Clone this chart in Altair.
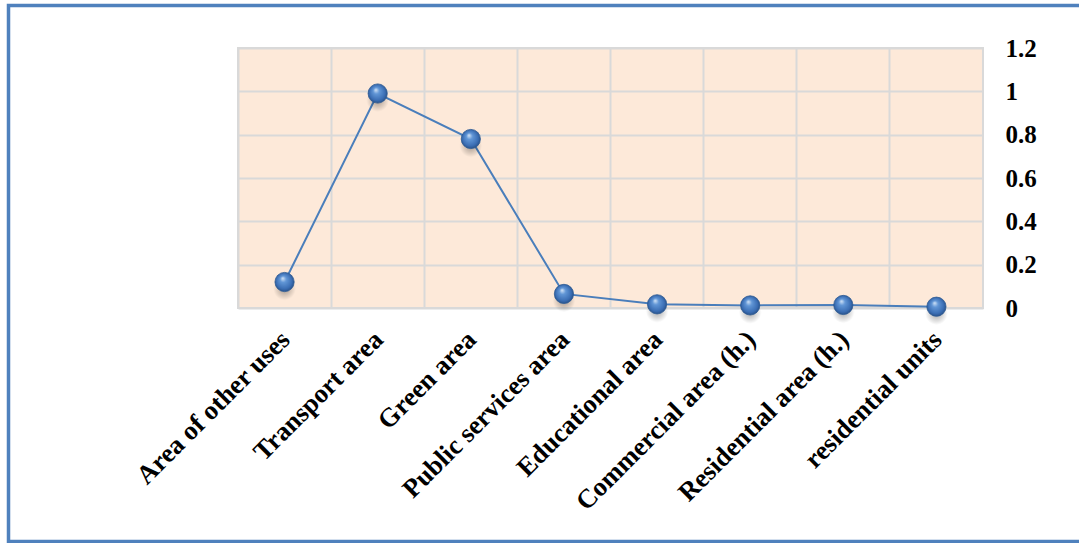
import altair as alt
import pandas as pd

# Land-use categories and their index values
categories = [
    "Area of other uses",
    "Transport area",
    "Green area",
    "Public services area",
    "Educational area",
    "Commercial area (h.)",
    "Residential area (h.)",
    "residential units",
]
values = [0.12, 0.99, 0.78, 0.065, 0.017, 0.012, 0.014, 0.006]
y_ticks = [0, 0.2, 0.4, 0.6, 0.8, 1.0, 1.2]

df = pd.DataFrame({"category": categories, "value": values})

W, H = 745, 260
PAD_L, PAD_T = 238, 48
FONT = "Liberation Serif"
LINE_BLUE = "#4A7EBB"

x_enc = alt.X(
    "category:N",
    sort=categories,
    scale=alt.Scale(type="band", paddingInner=0, paddingOuter=0),
    axis=alt.Axis(
        title=None,
        labelAngle=-45,
        labelAlign="right",
        labelBaseline="top",
        labelPadding=18,
        labelOffset=-8,
        labelFont=FONT,
        labelFontSize=26.5,
        labelFontWeight="bold",
        labelColor="black",
        labelLimit=400,
        domain=False,
        ticks=False,
        grid=True,
        bandPosition=0,
        gridColor="#D9D9D9",
        gridWidth=2,
    ),
)
y_enc = alt.Y(
    "value:Q",
    scale=alt.Scale(domain=[0, 1.2], nice=False),
    axis=alt.Axis(
        title=None,
        orient="right",
        values=y_ticks,
        labelExpr="datum.value == 0 ? '0' : format(datum.value, '.1~f')",
        labelAlign="left",
        labelBaseline="middle",
        labelPadding=22,
        labelFont=FONT,
        labelFontSize=25,
        labelFontWeight="bold",
        labelColor="black",
        domain=False,
        ticks=False,
        grid=True,
        gridColor="#D9D9D9",
        gridWidth=2,
    ),
)

line = alt.Chart(df).mark_line(color=LINE_BLUE, strokeWidth=2).encode(x=x_enc, y=y_enc)

# soft drop shadow under each marker
shadow_fill = alt.RadialGradient(
    gradient="radial",
    stops=[
        alt.GradientStop(color="rgba(0,0,0,0.35)", offset=0),
        alt.GradientStop(color="rgba(0,0,0,0)", offset=1),
    ],
    x1=0.5, y1=0.5, r1=0, x2=0.5, y2=0.5, r2=0.5,
)
shadow = alt.Chart(df).mark_point(
    shape="circle", filled=True, fill=shadow_fill, strokeWidth=0, size=500, yOffset=7, opacity=1
).encode(x=x_enc, y=y_enc)

# glossy sphere markers
sphere_fill = alt.RadialGradient(
    gradient="radial",
    stops=[
        alt.GradientStop(color="#D6E6F8", offset=0),
        alt.GradientStop(color="#6196D6", offset=0.3),
        alt.GradientStop(color="#3A6DB3", offset=0.75),
        alt.GradientStop(color="#24487A", offset=1),
    ],
    x1=0.4, y1=0.3, r1=0, x2=0.5, y2=0.5, r2=0.55,
)
points = alt.Chart(df).mark_point(
    shape="circle", filled=True, fill=sphere_fill, stroke="#2C5A94", strokeWidth=0.8, size=370, opacity=1
).encode(x=x_enc, y=y_enc)

# blue frame around the whole figure
frame = alt.Chart(pd.DataFrame({"a": [0]})).mark_rect(
    fillOpacity=0, stroke="#4F81BD", strokeWidth=3.5
).encode(
    x=alt.value(8.5 - PAD_L),
    x2=alt.value(1100 - PAD_L),
    y=alt.value(5.5 - PAD_T),
    y2=alt.value(541.5 - PAD_T),
)

chart = (
    alt.layer(line, shadow, points, frame)
    .properties(
        width=W,
        height=H,
        autosize=alt.AutoSizeParams(type="none"),
        padding={"left": PAD_L, "top": PAD_T, "right": 1079 - PAD_L - W, "bottom": 543 - PAD_T - H},
        background="white",
    )
    .configure_view(fill="#FDE9D9", stroke="#D9D9D9", strokeWidth=2)
)

chart.save("out.html", embed_options={"renderer": "svg", "actions": False})
